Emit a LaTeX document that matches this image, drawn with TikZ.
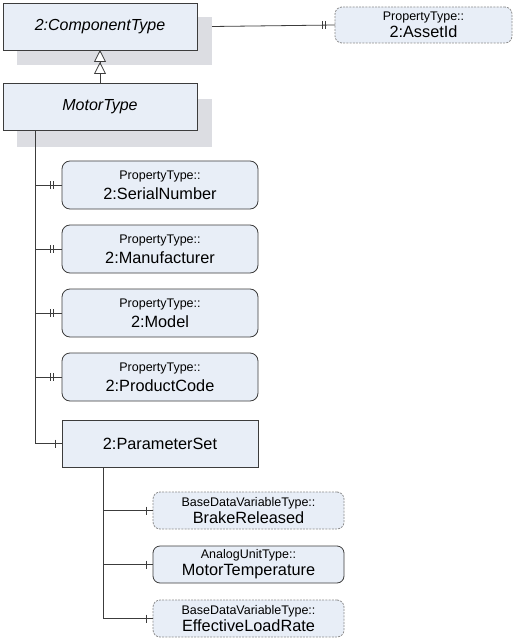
\documentclass[tikz,border=0pt]{standalone}
\usepackage{fontspec}
\setmainfont{Liberation Sans}
\usetikzlibrary{arrows.meta,positioning}
\definecolor{boxfill}{HTML}{E8EEF7}
\definecolor{boxline}{HTML}{3C3C3C}
\definecolor{shade}{HTML}{DCDDE2}
\definecolor{dashline}{HTML}{8C8C8C}

\newcommand{\typedname}[3][3pt]{{\fontsize{12.5}{13}\selectfont #2}\\[#1]#3}

\begin{document}
\begin{tikzpicture}[x=1pt,y=-1pt,
  every node/.style={inner sep=0pt,outer sep=0pt},
  link/.style={draw=boxline,line width=0.8pt},
  shadowbox/.style={fill=shade,minimum width=195pt,minimum height=48pt,anchor=north west},
  typebox/.style={draw=boxline,line width=0.9pt,fill=boxfill,minimum width=194pt,
                  minimum height=47pt,anchor=north west,font=\fontsize{16}{18}\selectfont\itshape},
  propbox/.style={draw=boxline,line width=0.8pt,fill=boxfill,rounded corners=8pt,
                  minimum width=196pt,minimum height=48pt,anchor=north west,align=center,
                  font=\fontsize{16.3}{17}\selectfont},
  varbox/.style={propbox,rounded corners=7pt,minimum width=191pt,minimum height=37pt},
  optbox/.style={draw=dashline,dashed,dash pattern=on 2pt off 1.2pt}
]
\useasboundingbox (0,0) rectangle (515,639);

% type hierarchy
\node[shadowbox] (compshade) at (17,17) {};
\node[typebox] (comp) at (3,3) {2:ComponentType};
\node[shadowbox] (motorshade) at (17,99) {};
\node[typebox] (motor) at (3,83) {MotorType};

\node[varbox,optbox,minimum width=177pt,minimum height=36pt] (asset) at (335,7)
  {\typedname[0pt]{PropertyType::}{2:AssetId}};

% properties of the motor
\node[propbox] (serial) at (62,161) {\typedname{PropertyType::}{2:SerialNumber}};
\node[propbox] (maker)  at (62,225) {\typedname{PropertyType::}{2:Manufacturer}};
\node[propbox] (model)  at (62,289) {\typedname{PropertyType::}{2:Model}};
\node[propbox] (code)   at (62,353) {\typedname{PropertyType::}{2:ProductCode}};
\node[propbox,rounded corners=0pt,minimum height=47pt] (params) at (62,420) {2:ParameterSet};

% parameters
\node[varbox,optbox] (brake) at (153,492) {\typedname[0pt]{BaseDataVariableType::}{BrakeReleased}};
\node[varbox]        (temp)  at (153,546) {\typedname[0pt]{AnalogUnitType::}{MotorTemperature}};
\node[varbox,optbox] (load)  at (153,600) {\typedname[0pt]{BaseDataVariableType::}{EffectiveLoadRate}};

% connectors
\draw[link,-{Triangle[fill=white,length=12pt,width=12pt] Triangle[fill=white,length=12pt,width=12pt]}]
  (motor.north) -- (comp.south);
\draw[link] ([xshift=15pt]comp.east) -- (asset.west);
\draw[link] ([xshift=-13pt,yshift=4pt]asset.west) -- ++(0,8)
            ([xshift=-10pt,yshift=4pt]asset.west) -- ++(0,8);

\coordinate (mspine) at (35,131);
\foreach \n in {serial,maker,model,code}{
  \draw[link] (mspine) |- (\n.west);
  \draw[link] ([xshift=-12pt,yshift=4pt]\n.west) -- ++(0,8)
              ([xshift=-9pt,yshift=4pt]\n.west) -- ++(0,8);
}
\draw[link] (mspine) |- (params.west);
\draw[link] ([xshift=-7pt,yshift=4pt]params.west) -- ++(0,8);

\coordinate (pspine) at (103,467);
\foreach \n in {brake,temp,load}{
  \draw[link] (pspine) |- (\n.west);
  \draw[link] ([xshift=-7pt,yshift=4pt]\n.west) -- ++(0,8);
}
\end{tikzpicture}
\end{document}
